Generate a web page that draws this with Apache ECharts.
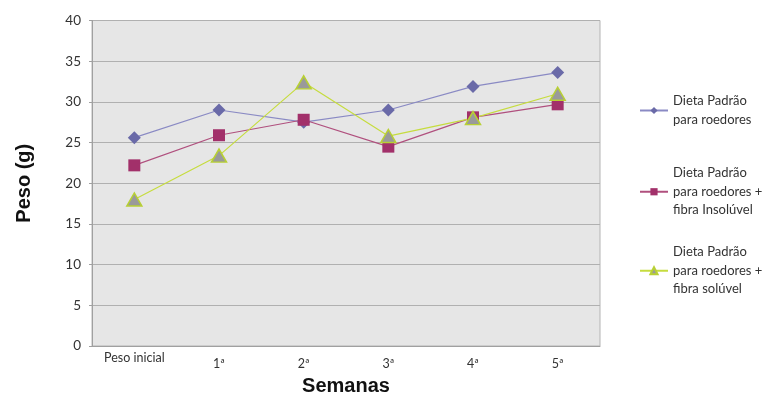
<!DOCTYPE html>
<html><head><meta charset="utf-8">
<script src="https://cdn.jsdelivr.net/npm/echarts@6/dist/echarts.min.js"></script>
<style>html,body{margin:0;padding:0;background:#fff}#c{width:765px;height:401px}</style>
</head><body><div id="c"></div>
<script>
var categories = ['Peso inicial', '1ª', '2ª', '3ª', '4ª', '5ª'];
var seriesNames = ['Dieta Padrão\npara roedores', 'Dieta Padrão\npara roedores +\nfibra Insolúvel', 'Dieta Padrão\npara roedores +\nfibra solúvel'];
var padrao = [25.6, 29.0, 27.5, 29.0, 31.9, 33.6];
var insoluvel = [22.2, 25.9, 27.8, 24.5, 28.1, 29.7];
var soluvel = [18.0, 23.4, 32.4, 25.8, 28.0, 31.0];
var yTicks = [0, 5, 10, 15, 20, 25, 30, 35, 40];

var font = 'Lato';
var chart = echarts.init(document.getElementById('c'));
function legendFor(name, top) {
  return {
    data: [name], left: 639, top: top, orient: 'vertical', padding: 0,
    itemWidth: 28, itemHeight: 9, itemGap: 4,
    textStyle: { fontFamily: font, fontSize: 13, color: '#333', lineHeight: 18.5 },
    selectedMode: false
  };
}
chart.setOption({
  animation: false,
  backgroundColor: '#fff',
  grid: { left: 92, right: 165, top: 20.5, bottom: 51, show: true, backgroundColor: '#e6e6e6', borderColor: '#b4b4b4', borderWidth: 1 },
  legend: [legendFor(seriesNames[0], 92), legendFor(seriesNames[1], 164), legendFor(seriesNames[2], 243)],
  xAxis: {
    type: 'category', data: categories, boundaryGap: true,
    name: 'Semanas', nameLocation: 'middle', nameGap: 30,
    nameTextStyle: { fontFamily: 'Liberation Sans', fontSize: 20, fontWeight: 'bold', color: '#111' },
    axisLine: { lineStyle: { color: '#a0a0a0' } },
    axisTick: { show: false },
    axisLabel: {
      margin: 5, interval: 0,
      fontFamily: font, fontSize: 12.5, color: '#333',
      formatter: function (v, i) { return i === 0 ? '{a|' + v + '}' : '{b|' + v + '}'; },
      rich: { a: { fontFamily: font, fontSize: 12.5, color: '#333', lineHeight: 14 }, b: { fontFamily: font, fontSize: 12.5, color: '#333', lineHeight: 14, padding: [11, 0, 0, 0] } }
    }
  },
  yAxis: {
    type: 'value', min: 0, max: 40, interval: 5,
    name: 'Peso (g)', nameLocation: 'middle', nameGap: 58,
    nameTextStyle: { fontFamily: 'Liberation Sans', fontSize: 20, fontWeight: 'bold', color: '#111' },
    axisLine: { show: true, lineStyle: { color: '#a0a0a0' } },
    axisTick: { show: true, length: 3, lineStyle: { color: '#a0a0a0' } },
    axisLabel: { margin: 11, fontFamily: font, fontSize: 13.5, color: '#333',
      formatter: function (v) { return yTicks.indexOf(v) >= 0 ? String(v) : ''; } },
    splitLine: { lineStyle: { color: '#b0b0b0', width: 1.2 } }
  },
  series: [
    { name: seriesNames[0], type: 'line', data: padrao, symbol: 'diamond', symbolSize: 13,
      lineStyle: { color: '#8a8ac4', width: 1.2 }, itemStyle: { color: '#6a6aa8' } },
    { name: seriesNames[1], type: 'line', data: insoluvel, symbol: 'rect', symbolSize: 12,
      lineStyle: { color: '#b0507e', width: 1.2 }, itemStyle: { color: '#a2306a' } },
    { name: seriesNames[2], type: 'line', data: soluvel, symbol: 'triangle', symbolSize: [15, 13],
      lineStyle: { color: '#c6dc3e', width: 1.2 }, itemStyle: { color: '#9a9a9a', borderColor: '#b8d034', borderWidth: 1.5 } }
  ]
});
</script></body></html>
